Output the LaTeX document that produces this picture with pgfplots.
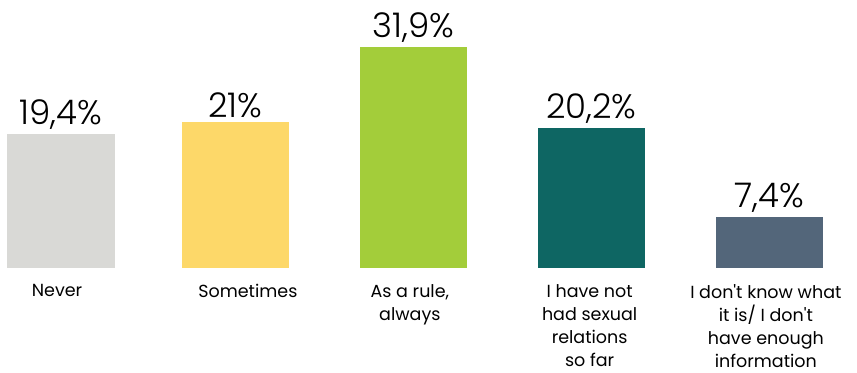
\documentclass[border=0pt]{standalone}
\usepackage{pgfplots}
\pgfplotsset{compat=1.18}
\usepackage{fontspec}
\setmainfont{Poppins}
\newfontfamily\numfont{Poppins Light}
\definecolor{cgray}{HTML}{D9D9D6}
\definecolor{cyellow}{HTML}{FDD869}
\definecolor{cgreen}{HTML}{A3CD3A}
\definecolor{cteal}{HTML}{0E6663}
\definecolor{cslate}{HTML}{53667A}
\begin{document}
\begin{tikzpicture}[x=1bp,y=1bp]
\begin{axis}[
  scale only axis, width=857bp, height=373bp,
  xmin=-0.3427, xmax=4.472, ymin=-15.15, ymax=38.67,
  hide axis, clip=false,
  ybar, bar width=107bp,
  /pgf/number format/assume math mode=true,
  /pgf/number format/use comma,
  nodes near coords={\pgfmathprintnumber{\pgfplotspointmeta}\%},
  every node near coord/.append style={font=\numfont\fontsize{34bp}{36bp}\selectfont, text=black, anchor=south, yshift=1bp},
]
\addplot[bar shift=0, fill=cgray, draw=none] coordinates {(0,19.4)};
\addplot[bar shift=0, fill=cyellow, draw=none] coordinates {(0.98,21)};
\addplot[bar shift=0, fill=cgreen, draw=none] coordinates {(1.98,31.9)};
\addplot[bar shift=0, fill=cteal, draw=none] coordinates {(2.98,20.2)};
\addplot[bar shift=0, fill=cslate, draw=none] coordinates {(3.98,7.4)};
\begin{scope}[every node/.style={anchor=north, align=center, font=\fontsize{17.5bp}{23bp}\selectfont, inner sep=0pt}]
\node at (axis cs:-0.022,-2.3) {Never};
\node at (axis cs:1.05,-2.3) {Sometimes};
\node at (axis cs:1.96,-2.3) {As a rule,\\always};
\node at (axis cs:2.97,-2.3) {I have not\\had sexual\\relations\\so far};
\node at (axis cs:3.96,-2.3) {I don\textquotesingle t know what\\it is/ I don\textquotesingle t\\have enough\\information};
\end{scope}
\end{axis}
\pgfresetboundingbox
\path[use as bounding box] (current axis.south west) rectangle (current axis.north east);
\end{tikzpicture}
\end{document}
